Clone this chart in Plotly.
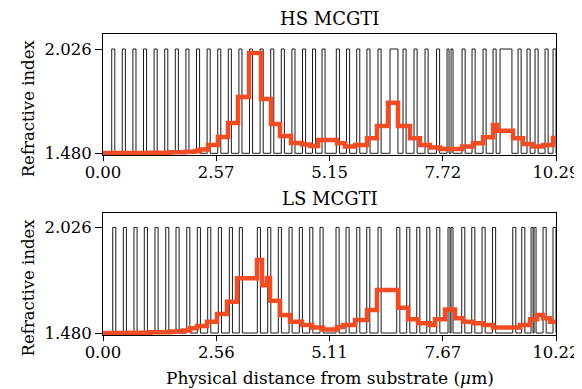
import plotly.graph_objects as go

N_LOW, N_HIGH = 1.480, 2.026

# HS MCGTI: high-index layer start positions (um) and thicknesses (um)
hs_pulse_start = [0.198, 0.438, 0.679, 0.920, 1.161, 1.402, 1.642, 1.883, 2.124, 2.365,
                  2.606, 2.846, 3.087, 3.328, 3.569, 3.810, 4.050, 4.291, 4.532, 4.759,
                  4.975, 5.300, 5.532, 5.763, 5.995, 6.247, 6.520, 6.815, 7.065, 7.315,
                  7.576, 7.815, 7.906, 8.156, 8.383, 8.633, 8.860, 9.019, 9.428, 9.632,
                  9.814, 10.041, 10.223]
hs_pulse_width = [0.07] * 26 + [0.18] + [0.07] * 4 + [0.045, 0.045] + [0.07] * 4 + [0.27] + [0.07] * 4 + [0.067]
hs_xmax = 10.29

# HS field intensity (step edges, values on refractive-index scale)
hs_field_x = [0.000, 0.613, 1.068, 1.522, 1.863, 2.090, 2.204, 2.385, 2.612, 2.840,
              3.067, 3.317, 3.589, 3.816, 4.021, 4.271, 4.521, 4.702, 4.884, 5.316,
              5.497, 5.725, 5.997, 6.224, 6.474, 6.701, 6.974, 7.201, 7.428, 7.656,
              8.155, 8.405, 8.633, 8.860, 8.950, 9.314, 9.541, 9.768, 9.995, 10.222]
hs_field_y = [1.482, 1.482, 1.483, 1.485, 1.488, 1.492, 1.500, 1.523, 1.565, 1.639,
              1.775, 2.005, 1.764, 1.633, 1.571, 1.534, 1.526, 1.518, 1.550, 1.532,
              1.515, 1.523, 1.559, 1.623, 1.745, 1.623, 1.559, 1.523, 1.511, 1.503,
              1.515, 1.532, 1.564, 1.628, 1.598, 1.559, 1.529, 1.515, 1.523, 1.560]

# LS MCGTI
ls_pulse_start = [0.219, 0.458, 0.699, 0.932, 1.173, 1.415, 1.647, 1.889, 2.128, 2.362,
                  2.602, 2.850, 3.075, 3.482, 3.716, 3.955, 4.197, 4.429, 4.664, 4.896,
                  5.257, 5.483, 5.724, 5.950, 6.205, 6.627, 6.852, 7.078, 7.304, 7.529,
                  7.784, 7.852, 8.093, 8.319, 8.552, 8.788, 9.244, 9.447, 9.657, 9.725,
                  9.928, 10.153]
ls_pulse_width = [0.07] * 30 + [0.045, 0.045] + [0.07] * 6 + [0.045, 0.045] + [0.07] + [0.067]
ls_xmax = 10.22

ls_field_x = [0.000, 0.609, 1.060, 1.512, 1.805, 1.963, 2.121, 2.347, 2.572, 2.798,
              3.023, 3.475, 3.588, 3.700, 3.768, 3.994, 4.219, 4.490, 4.716, 4.964,
              5.280, 5.415, 5.686, 5.957, 6.182, 6.656, 6.882, 7.107, 7.378, 7.491,
              7.717, 7.942, 8.123, 8.348, 8.574, 8.799, 9.409, 9.634, 9.792, 9.928,
              10.086]
ls_field_y = [1.480, 1.481, 1.484, 1.488, 1.493, 1.504, 1.516, 1.538, 1.578, 1.642,
              1.763, 1.857, 1.727, 1.764, 1.647, 1.573, 1.538, 1.521, 1.509, 1.498,
              1.511, 1.521, 1.547, 1.599, 1.702, 1.611, 1.551, 1.530, 1.521, 1.551,
              1.602, 1.556, 1.538, 1.530, 1.521, 1.509, 1.521, 1.551, 1.573, 1.556,
              1.538]

hs_ticks = [0.00, 2.57, 5.15, 7.72, 10.29]
ls_ticks = [0.00, 2.56, 5.11, 7.67, 10.22]
y_ticks = [1.480, 2.026]

FONT = "DejaVu Serif"
ORANGE = "#F24C24"


def profile(starts, widths, xmax):
    xs, ys = [0.0], [N_LOW]
    for s, w in zip(starts, widths):
        xs += [s, s, s + w, s + w]
        ys += [N_LOW, N_HIGH, N_HIGH, N_LOW]
    xs.append(xmax)
    ys.append(N_LOW)
    return xs, ys


fig = go.Figure()
for (starts, widths, xmax, fx, fy, xa, ya) in [
    (hs_pulse_start, hs_pulse_width, hs_xmax, hs_field_x, hs_field_y, "x", "y"),
    (ls_pulse_start, ls_pulse_width, ls_xmax, ls_field_x, ls_field_y, "x2", "y2"),
]:
    px, py = profile(starts, widths, xmax)
    fig.add_trace(go.Scatter(x=px, y=py, mode="lines", line=dict(color="#1a1a1a", width=1),
                             xaxis=xa, yaxis=ya, showlegend=False, hoverinfo="skip"))
    fig.add_trace(go.Scatter(x=fx + [xmax], y=fy + [fy[-1]], mode="lines", line_shape="hv",
                             line=dict(color=ORANGE, width=4.5), xaxis=xa, yaxis=ya,
                             showlegend=False))

tick_font = dict(family=FONT, size=16.5, color="black")
axis_common = dict(showline=True, mirror=True, linecolor="black", linewidth=1,
                   ticks="outside", tickcolor="black", showgrid=False, automargin=False,
                   zeroline=False, tickfont=tick_font, ticklabeloverflow="allow")

# page body has an 8 px margin, so the figure is sized/margined to compensate
fig.update_layout(
    width=574, height=381,
    paper_bgcolor="white", plot_bgcolor="white",
    margin=dict(l=95, r=26, t=26, b=54, pad=0),
    xaxis=dict(domain=[0, 1], range=[0, hs_xmax], anchor="y", tickvals=hs_ticks,
               ticktext=[f"{v:.2f}" for v in hs_ticks], ticklen=5,
               ticklabelstandoff=-3, **axis_common),
    yaxis=dict(domain=[0.598, 1], range=[1.4711, 2.1045], anchor="x", tickvals=y_ticks,
               ticktext=[f"{v:.3f}" for v in y_ticks], ticklen=7, **axis_common),
    xaxis2=dict(domain=[0, 1], range=[0, ls_xmax], anchor="y2", tickvals=ls_ticks,
                ticktext=[f"{v:.2f}" for v in ls_ticks], ticklen=5,
                ticklabelstandoff=-3, **axis_common),
    yaxis2=dict(domain=[0, 0.405], range=[1.4697, 2.100], anchor="x2", tickvals=y_ticks,
                ticktext=[f"{v:.3f}" for v in y_ticks], ticklen=7, **axis_common),
)

title_font = dict(family=FONT, size=18, color="black")
fig.add_annotation(text="HS MCGTI", x=0.5, y=1.053, xref="paper", yref="paper",
                   showarrow=False, font=title_font, xanchor="center", yanchor="middle")
fig.add_annotation(text="LS MCGTI", x=0.5, y=0.455, xref="paper", yref="paper",
                   showarrow=False, font=title_font, xanchor="center", yanchor="middle")
fig.add_annotation(text="Physical distance from substrate (<i>μ</i>m)", x=0.5, y=-0.143,
                   xref="paper", yref="paper", showarrow=False,
                   font=dict(family=FONT, size=17, color="black"),
                   xanchor="center", yanchor="middle")
for yc in [0.754, 0.159]:
    fig.add_annotation(text="Refractive index", x=-0.165, y=yc, xref="paper", yref="paper",
                       showarrow=False, font=dict(family=FONT, size=16.5, color="black"),
                       textangle=-90, xanchor="center", yanchor="middle")

fig.write_html("out.html")
